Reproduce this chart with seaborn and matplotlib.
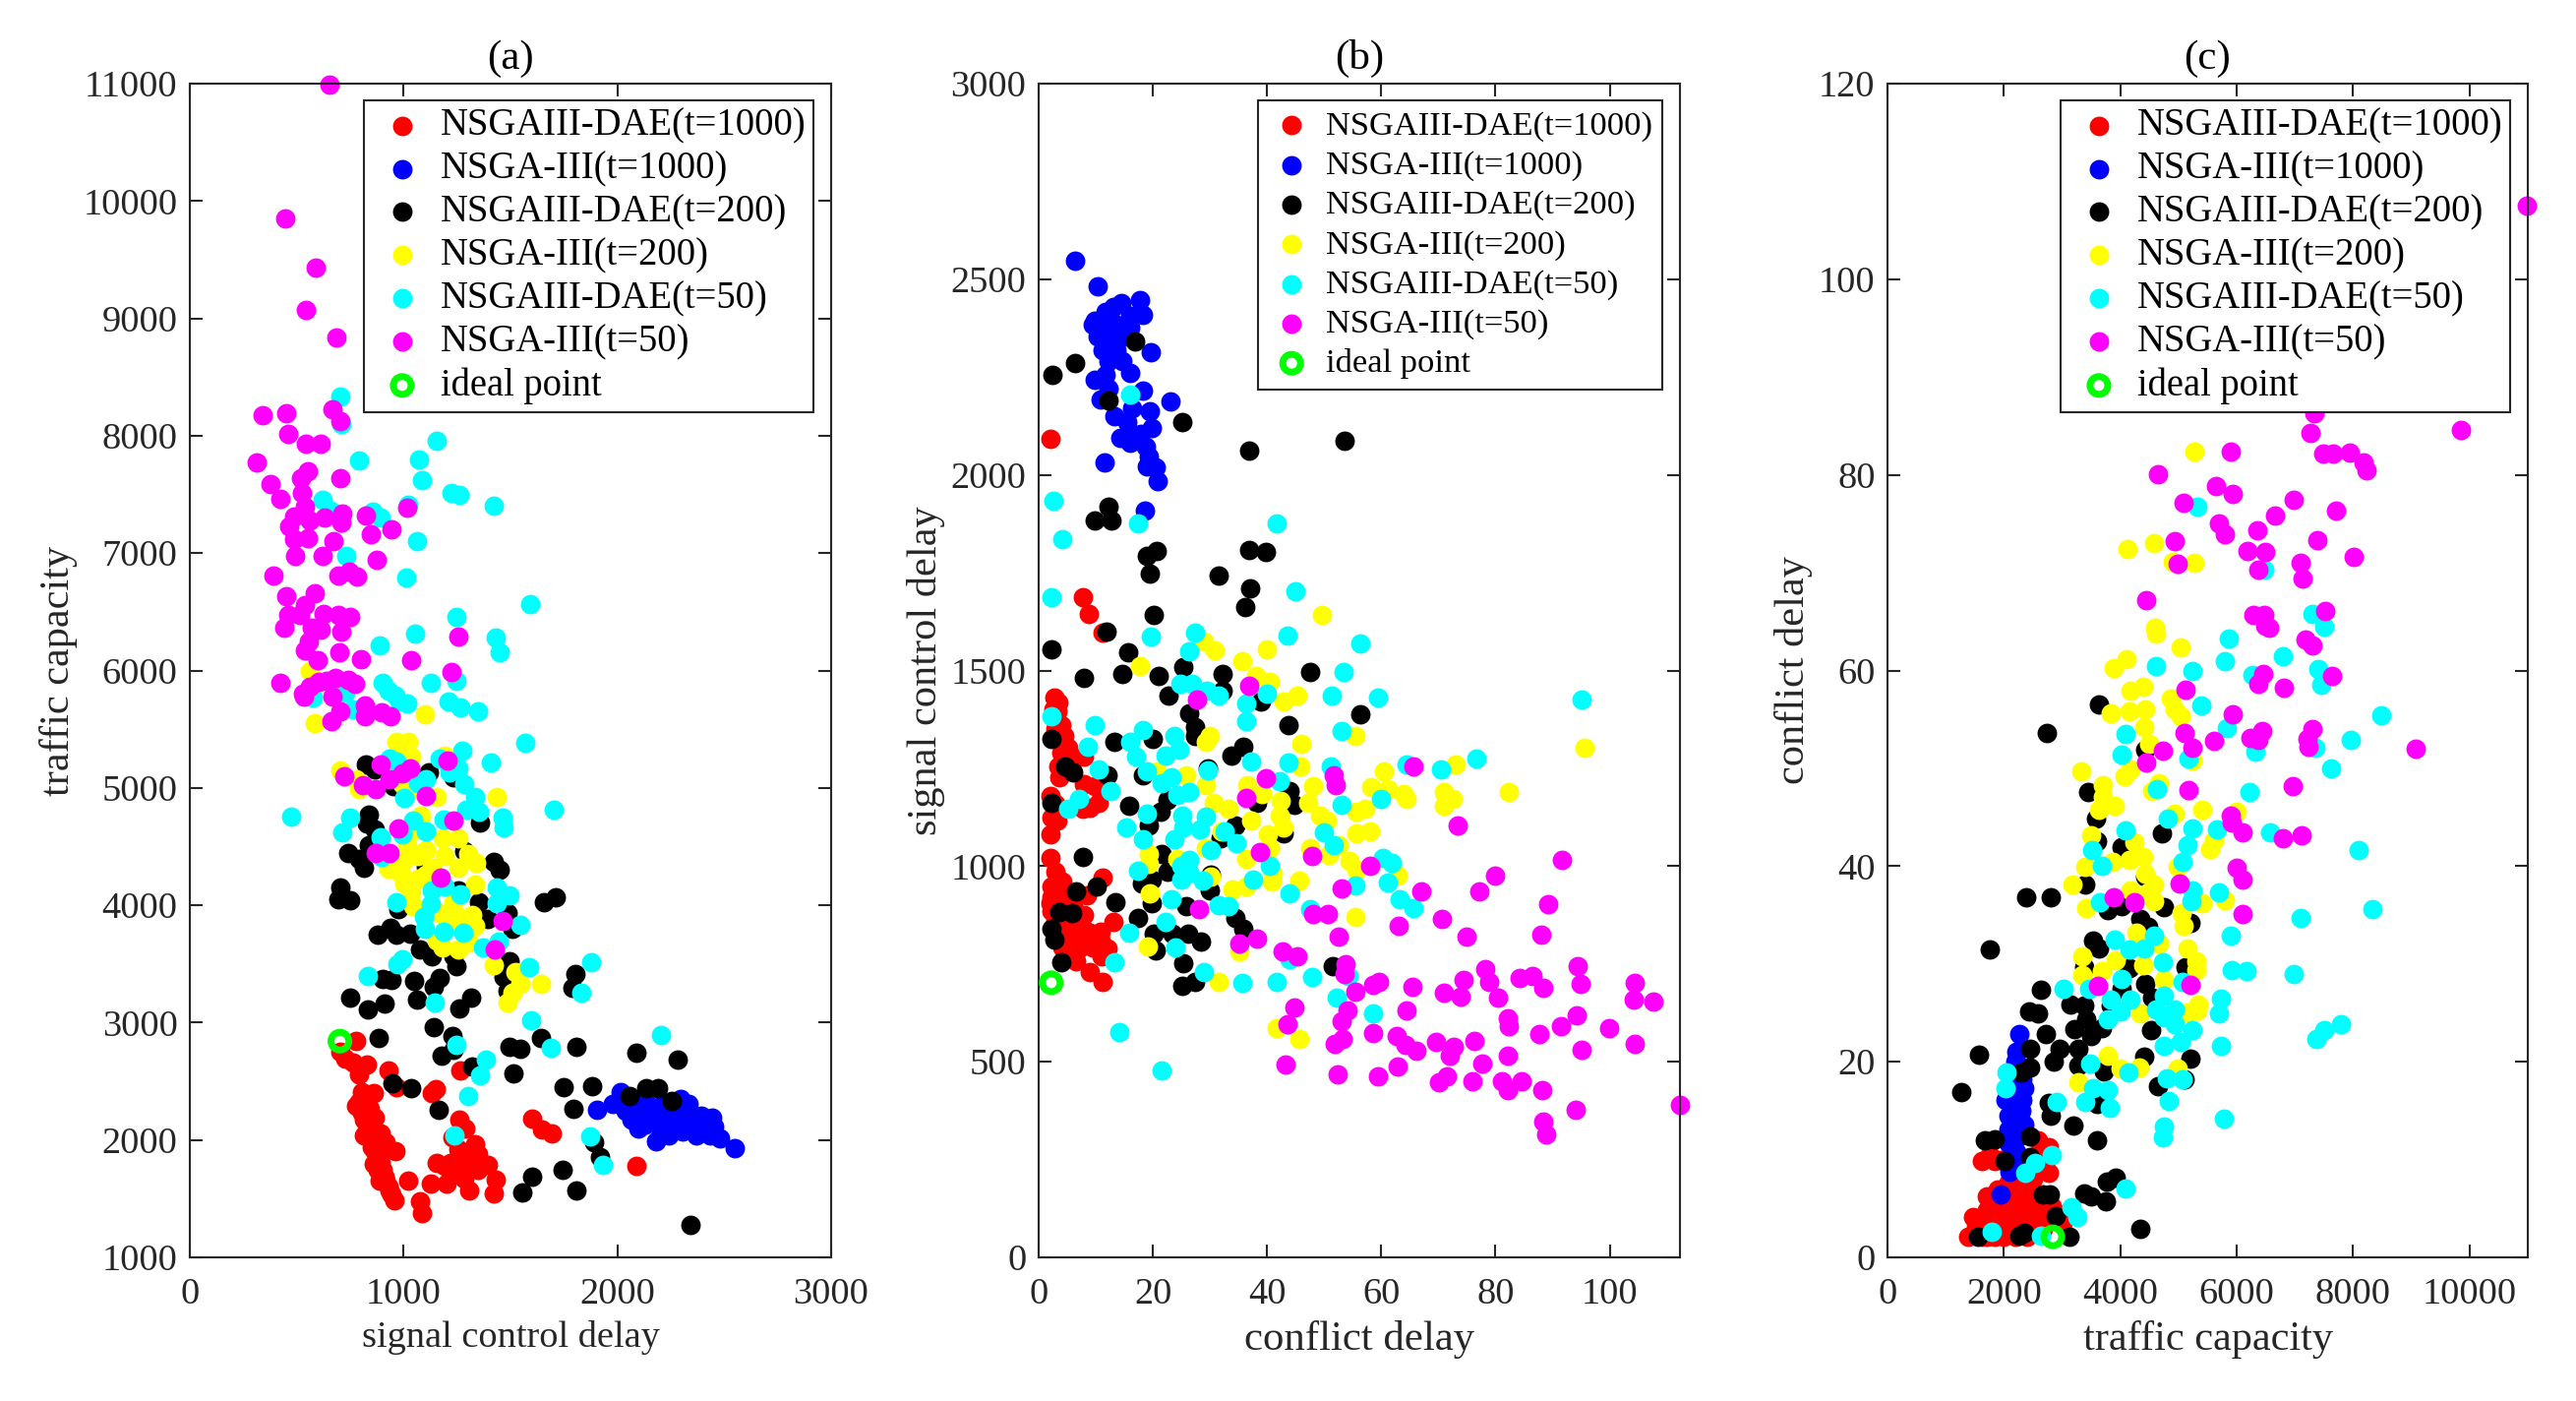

# PARETO FRONT SCATTER PANELS (a) (b) (c)

import pandas as pd
import matplotlib
matplotlib.use("Agg")
import matplotlib.pyplot as plt
import seaborn as sns

# STEP 1 — SERIES NAMES AND COLOURS

labels = ["NSGAIII-DAE(t=1000)", "NSGA-III(t=1000)", "NSGAIII-DAE(t=200)",
          "NSGA-III(t=200)", "NSGAIII-DAE(t=50)", "NSGA-III(t=50)"]
colors = ["#ff0000", "#0000ff", "#000000", "#ffff00", "#00ffff", "#ff00ff"]

# STEP 2 — PANEL (a): signal control delay, traffic capacity

a_red = [(778,2842),(702,2753),(727,2695),(765,2656),(828,2644),(790,2559),(929,2590),(967,2451),(1265,2590),
         (1131,2397),(1151,2432),(803,2412),(861,2397),(778,2289),(803,2231),(866,2192),(828,2134),(891,2057),
         (816,2037),(917,1979),(853,1940),(962,1902),(879,1844),(904,1747),(917,1650),(934,1573),(957,1488),
         (1023,1654),(1076,1476),(1088,1380),(1263,2172),(1288,2095),(1227,2025),(1333,1960),(1257,1921),
         (1156,1805),(1220,1805),(1283,1786),(1358,1805),(1396,1786),(1126,1631),(1202,1631),(1283,1670),
         (1308,1573),(1429,1662),(1424,1542),(1601,2180),(1649,2087),(1692,2057),(2091,1778),(790,2327),
         (841,2269),(816,2172),(879,2018),(866,1902),(891,1805),(909,1689),(942,1535),(1346,1883),(1283,1863),
         (800,2300),(850,2200),(850,2050),(900,1950),(860,1800),(880,1750),(890,1650),(930,1600),(900,2000),
         (1300,1900),(1350,1750),(1250,1720),(1190,1780)]
a_blue = [(1906,2261),(2015,2405),(1977,2308),(2040,2250),(2065,2172),(2098,2095),(2179,1990),(2242,2037),
          (2305,2076),(2331,2308),(2298,2347),(2217,2327),(2141,2308),(2091,2269),(2166,2231),(2242,2231),
          (2318,2211),(2394,2211),(2444,2192),(2452,2115),(2394,2115),(2343,2134),(2267,2134),(2192,2134),
          (2129,2134),(2368,2037),(2432,2037),(2482,2018),(2548,1929),(2015,2308),(2065,2347),(2204,2057),(2280,2192),
          (2100,2200),(2180,2200),(2250,2270),(2350,2180)]
a_black = [(823,5197),(866,5158),(1119,5132),(1232,5093),(954,5015),(1358,4706),(836,4772),(828,4694),(866,4648),
           (836,4513),(740,4443),(790,4397),(813,4319),(1283,4462),(1422,4366),(1449,4300),(1103,4327),(702,4153),
           (694,4048),(752,4041),(1257,4126),(1353,4029),(1656,4029),(1712,4068),(975,3971),(1485,3932),(1396,3882),
           (1510,3797),(879,3747),(937,3809),(967,3747),(1030,3758),(1076,3623),(1131,3565),(1232,3565),(1245,3480),
           (1497,3526),(1467,3391),(904,3372),(942,3364),(1048,3352),(1169,3379),(1139,3302),(1805,3410),(1788,3294),
           (1485,3275),(752,3213),(1061,3197),(1316,3217),(909,3159),(833,3112),(1263,3120),(1139,2965),(1227,2888),
           (884,2869),(1644,2869),(1497,2791),(1548,2780),(1810,2791),(1232,2772),(1177,2722),(2088,2741),(2283,2683),
           (1321,2629),(1515,2571),(947,2482),(1035,2443),(1750,2451),(1884,2455),(2134,2443),(2192,2443),(2058,2377),
           (2255,2335),(1162,2258),(1793,2269),(1889,1979),(1919,1851),(1742,1747),(1603,1685),(1553,1554),(1808,1569),
           (2343,1279)]
a_yellow = [(561,6000),(1101,5627),(586,5549),(967,5391),(1023,5391),(992,5344),(1035,5267),(1194,5275),(702,5151),
            (778,5073),(790,4988),(992,5035),(1081,4977),(1156,4919),(1434,4919),(1081,4764),(1056,4648),(1182,4571),
            (1257,4571),(1017,4513),(1106,4474),(1068,4416),(1194,4416),(1303,4435),(992,4358),(929,4311),(985,4280),
            (1257,4319),(1338,4358),(1131,4319),(1005,4184),(1068,4223),(1333,4176),(1035,4106),(1043,3990),(1232,4029),
            (1169,3932),(1245,3913),(1321,3913),(1333,3824),(1207,3836),(1270,3816),(1157,3700),(1182,3642),(1257,3623),
            (1308,3681),(1422,3488),(1523,3430),(1641,3333),(1548,3333),(1510,3256),(1485,3170),(1106,4261)]
a_cyan = [(702,8335),(707,8096),(1156,7954),(793,7792),(1071,7800),(1086,7619),(1222,7512),(1263,7500),(1422,7404),
          (621,7458),(656,7365),(856,7354),(894,7300),(1023,7412),(1061,7100),(730,6977),(1010,6789),(1591,6569),
          (1247,6458),(1053,6316),(1432,6277),(1449,6158),(889,6212),(904,5892),(1126,5892),(1247,5912),(929,5827),
          (727,5808),(962,5790),(576,5770),(765,5673),(980,5739),(1018,5720),(1212,5739),(1265,5685),(1346,5654),
          (1568,5383),(1409,5213),(1275,5313),(1169,5248),(934,5248),(967,5228),(1215,5132),(1257,5170),(1283,5035),
          (1106,5073),(1068,5043),(1002,4911),(1333,4927),(1295,4810),(1353,4795),(1704,4814),(475,4752),(752,4745),
          (715,4625),(1043,4725),(1187,4733),(1465,4745),(1467,4667),(1103,4629),(992,4602),(891,4578),(899,4408),
          (1131,4126),(1194,4157),(1265,4091),(1434,4153),(1497,4087),(1434,4021),(967,4029),(1126,4010),(1096,3901),
          (1098,3797),(1548,3836),(1187,3778),(1280,3770),(1371,3642),(1447,3693),(992,3538),(972,3499),(831,3395),
          (1586,3472),(1879,3511),(1833,3256),(1146,3170),(1598,3023),(2204,2896),(1687,2787),(1245,2811),(1384,2687),
          (1358,2552),(1303,2374),(1240,2037),(1874,2029),(1934,1786)]
a_magenta = [(654,10990),(447,9854),(591,9431),(543,9069),(687,8838),(341,8173),(449,8188),(669,8223),(702,8127),
             (462,8012),(543,7931),(611,7931),(313,7773),(550,7700),(518,7635),(702,7639),(376,7585),(525,7515),
             (424,7465),(538,7396),(487,7316),(715,7339),(631,7300),(563,7281),(710,7258),(823,7319),(467,7231),
             (944,7204),(848,7162),(1018,7389),(487,7123),(550,7127),(674,7104),(492,6977),(619,6973),(876,6942),
             (697,6812),(745,6842),(780,6800),(389,6808),(449,6635),(586,6662),(540,6558),(462,6473),(515,6473),
             (444,6362),(626,6481),(694,6473),(752,6458),(571,6365),(614,6346),(707,6335),(558,6250),(540,6170),
             (699,6158),(596,6089),(800,6100),(1257,6292),(1035,6085),(1225,5989),(424,5892),(563,5865),(601,5904),
             (639,5912),(682,5935),(740,5923),(773,5885),(530,5800),(669,5781),(535,5777),(702,5654),(821,5700),
             (821,5607),(899,5646),(939,5607),(662,5568),(891,5201),(1207,5236),(722,5100),(934,5073),(992,5120),
             (1030,5162),(811,5023),(869,4988),(1103,4930),(1232,4725),(975,4652),(871,4447),(934,4447),(1172,4234),
             (1462,3870),(1427,3623)]
a_ideal = [(702,2842)]

# STEP 3 — PANEL (b): conflict delay, signal control delay

b_red = [(2.1,2091),(7.7,1687),(8.7,1644),(11.2,1598),(2.7,1431),(3.4,1419),(3.2,1395),(3.9,1361),(4.4,1332),
         (5.1,1303),(7.9,1279),(3.5,1256),(3.7,1227),(9.8,1204),(10.5,1163),(7.7,1146),(2.3,1123),(3.2,1117),
         (2.1,1082),(2.1,1022),(11.2,970),(2.3,949),(4.2,961),(2.3,920),(4.2,926),(8.4,926),(2.3,885),(6,897),
         (13.1,858),(7.5,844),(10.8,833),(5.1,815),(7.5,815),(6,786),(9.4,792),(12,789),(10.8,810),(6.5,757),
         (8.9,728),(11.2,703),(4.2,792),(8.4,833),(3.2,943),(4.6,897),(2,1180),(3,1160),(4,1290),(5,1260),(8,1210),
         (9,1150),(3,985),(2,905),(5,880),(3,860),(6,840),(8,875),(7,790),(9,830),(11,770),(6,815),(4,845),
         (2.5,1400),(3,1350),(6,1270)]
b_blue = [(6.3,2548),(10.4,2482),(14.4,2440),(17.7,2446),(18.3,2409),(9.8,2394),(11.7,2417),(13.1,2429),(16,2406),
          (9.4,2383),(11.2,2383),(13.6,2383),(16,2377),(10.3,2354),(12.7,2354),(15,2354),(19.6,2313),(11.2,2319),
          (13.6,2319),(12.2,2290),(14.6,2290),(16,2261),(11.7,2256),(9.8,2242),(18.3,2215),(10.8,2192),(23,2189),
          (16.4,2169),(19.5,2163),(13.3,2150),(15.5,2135),(19.8,2120),(17.9,2106),(14.3,2094),(16,2083),(18.8,2071),
          (16.9,2100),(19.3,2048),(11.5,2033),(19,2021),(20.5,2019),(20.9,1984),(18.6,1909),(12.2,2221)]
b_black = [(16.9,2340),(6.3,2285),(2.4,2256),(12.3,2190),(25.1,2135),(36.8,2061),(53.6,2088),(12.2,1919),(9.8,1883),
           (12.7,1883),(20.7,1806),(19,1792),(36.9,1808),(39.8,1803),(19.5,1748),(31.5,1742),(37,1709),(36.1,1661),
           (20.1,1643),(11.9,1600),(2.2,1554),(15.6,1546),(7.9,1482),(14.7,1490),(21,1485),(25.3,1509),(32.2,1490),
           (47.6,1497),(22.7,1436),(32.2,1448),(38.9,1421),(56.4,1387),(43.7,1361),(26.4,1390),(27.3,1355),(27.3,1332),
           (2.3,1324),(13.3,1317),(19.9,1324),(35.8,1306),(33.7,1282),(4.6,1256),(6,1239),(29.7,1250),(18.3,1233),
           (12,1233),(43.9,1192),(2.3,1161),(15.8,1154),(22.6,1169),(21.4,1140),(38.2,1163),(44.8,1158),(19.3,1105),
           (34.4,1105),(42.9,1085),(31.9,1071),(21.5,1032),(7.7,1023),(22.6,986),(30.2,978),(18.1,955),(19.8,966),
           (29.9,937),(6.5,935),(10.1,948),(19.8,906),(13.4,908),(25.9,897),(3.7,882),(5.8,879),(34.4,868),(17.4,868),
           (35.8,841),(2.3,841),(2.7,812),(20.2,827),(23.5,827),(26.2,827),(28.5,806),(20.5,784),(4,754),(25.4,752),
           (51.5,744),(25.1,694),(27.3,705)]
b_yellow = [(49.6,1641),(29,1575),(30.8,1551),(17.8,1512),(39.9,1554),(35.7,1525),(38,1486),(40.4,1471),(45.3,1436),
            (42.9,1421),(55.5,1334),(46,1312),(29.9,1334),(29.2,1317),(45.9,1254),(73,1260),(60.4,1242),(95.6,1303),
            (20.7,1241),(25.9,1233),(36.5,1208),(29.2,1206),(39.1,1184),(48.1,1204),(58.2,1201),(61.2,1196),(82.4,1190),
            (63.9,1184),(71,1189),(72.5,1173),(71,1154),(64.5,1172),(30.6,1163),(42.4,1166),(47.2,1163),(57.1,1146),
            (55.7,1140),(33.2,1146),(42.2,1129),(49.3,1129),(37.2,1117),(42.9,1100),(50.5,1117),(55.7,1085),(58,1090),
            (40.1,1082),(32,1088),(40.5,1047),(29.2,1047),(52.6,1053),(47.6,1047),(50.8,1028),(19.3,1030),(19.3,1007),
            (36.3,1018),(24.3,1018),(54.4,1013),(55.7,992),(62.8,976),(41,980),(40.8,960),(45.7,964),(30.2,972),(36.4,949),
            (33.9,940),(19.5,931),(55.4,871),(19.1,795),(35.1,781),(31.6,705),(41.7,587),(45.6,559)]
b_cyan = [(16,2206),(2.5,1935),(17.4,1875),(41.6,1877),(4.2,1836),(2.2,1688),(45,1702),(19.7,1586),(27.4,1598),
          (43.6,1589),(26.4,1549),(56.3,1568),(53.4,1497),(24.8,1467),(26.8,1467),(29.4,1448),(31.6,1436),(40,1442),
          (51.4,1436),(59.5,1432),(95.1,1425),(36.4,1417),(2.2,1384),(36.4,1370),(9.8,1361),(53,1346),(18.3,1349),
          (23.7,1334),(16,1317),(8.6,1305),(24.7,1297),(17,1280),(22.2,1283),(37.2,1268),(43.7,1264),(51.1,1256),
          (64.4,1260),(70.4,1247),(76.7,1274),(10.5,1247),(19,1241),(29.6,1245),(23.3,1227),(21.5,1212),(42.2,1216),
          (12.5,1192),(26.4,1189),(24.3,1181),(60,1172),(7,1172),(53,1158),(5.1,1146),(19,1134),(25.2,1129),(29.3,1126),
          (25.4,1100),(28.3,1094),(15.4,1100),(32.5,1090),(50,1086),(18.2,1068),(23.7,1068),(34.7,1059),(51.7,1053),
          (30.2,1042),(60.2,1021),(26.4,1016),(61.8,1009),(25,1001),(40.4,1001),(17.4,989),(26.4,984),(25,966),(28.7,964),
          (37.5,966),(61.1,958),(55.5,951),(44,931),(23.3,916),(63.2,916),(31.6,899),(33.2,897),(65.7,893),(47.6,889),
          (22.3,858),(15.9,829),(23.9,792),(13.2,755),(43.9,761),(29,728),(47.9,716),(54.3,720),(41.7,705),(35.6,701),
          (52.2,665),(58.5,624),(14.2,575),(21.6,477)]
b_magenta = [(36.8,1462),(27.8,1427),(65.6,1256),(51.7,1233),(52.1,1206),(39.8,1225),(36.3,1174),(73.3,1103),(38.7,1036),
             (47.8,1027),(91.6,1016),(58,1001),(80,976),(53,943),(67,935),(77.1,936),(89.2,902),(28,889),(48.1,877),
             (50.7,877),(70.7,866),(63.1,848),(88.1,824),(75,820),(52.6,819),(38.2,815),(35.1,802),(42.7,781),(45.3,769),
             (78.2,737),(53.8,749),(94.4,744),(53.5,723),(78.8,705),(74.4,709),(84.2,715),(86.5,720),(58.5,697),(59.6,704),
             (65.5,691),(94.9,699),(104.3,702),(55.5,680),(71,676),(73.9,667),(80.4,665),(88.3,688),(104.2,659),(107.7,655),
             (44.7,638),(54.1,630),(64.4,631),(94.2,618),(53,603),(82.1,610),(82.3,592),(43.6,595),(91.4,592),(99.9,587),
             (58.6,573),(62.7,566),(87.6,572),(53.2,557),(51.9,545),(76.3,553),(69.5,550),(64.2,543),(72.7,537),(72,516),
             (66.1,528),(104.3,546),(82.1,516),(95,531),(77.6,496),(43.2,493),(62.9,488),(52.4,467),(59.5,462),(71.5,462),
             (70.1,447),(75.9,450),(81.2,450),(84.6,449),(82.1,427),(88.2,428),(94.1,378),(88.3,346),(88.9,314),(112.3,390)]
b_ideal = [(2.2,702)]

# STEP 4 — PANEL (c): traffic capacity, conflict delay

c_red = [(1385,2.1),(1616,2.1),(1986,2.1),(1524,3.2),(1755,3.4),(1709,4.8),(1847,5.7),(2124,4.8),(2124,3.4),(2401,3.9),
         (2678,3.9),(2817,5.2),(2494,5.2),(2586,4.5),(2217,6.2),(2401,6.6),(2078,7.6),(2309,7.6),(2124,8.3),(2494,8),
         (2771,8.7),(1616,9.9),(1847,9.9),(2725,9.9),(2771,11.3),(2586,12),(1893,6.9),(2124,6.6),(2401,5),(2263,4.3),
         (1940,4.5),(1893,2.9),(2078,2.9),(2401,2.9),(2678,2.9),(1478,4.1),(1709,6.2),(1700,2.1),(1850,2.1),(2200,2.1),
         (2400,2.1),(1600,3),(1800,4),(2000,5.5),(2200,5.5),(2000,3.8),(2300,3.5),(2550,3.3),(2300,5.5),(2600,6),(2000,6.5),
         (2250,7),(2450,7),(2200,8.8),(2350,8.5),(2600,9),(2500,10),(2650,11),(1750,10.5),(1950,10),(2900,4.5),(3000,3.5)]
c_blue = [(2263,22.8),(2217,21),(2263,19.6),(2309,18.2),(2263,17.3),(2124,16.4),(2217,15.5),(2078,14.5),(2217,14.1),
          (2078,13.1),(2263,12.4),(2078,11.7),(2217,10.8),(2078,9.9),(2217,9.2),(2355,17.3),(2032,16.1),(2309,16.1),
          (2170,18),(1940,6.4),(2355,13.6),(2150,13),(2150,15),(2150,17),(2150,12),(2150,10),(2200,20),(2300,15),
          (2120,19),(2100,8.8)]
c_black = [(3630,56.5),(2743,53.6),(4433,51.9),(3445,47.6),(3574,44.9),(4710,43.4),(3602,42.5),(4018,41.9),(4433,38.9),
           (3399,38.1),(2383,36.8),(2798,36.8),(3787,35.5),(4018,35.9),(4756,35.8),(4341,34.6),(4479,33.8),(5200,34.2),
           (3537,32.4),(3639,31.6),(1764,31.5),(3371,29.7),(4156,29.6),(5126,29.7),(4433,28),(4018,27.5),(2641,27.4),
           (3140,25.9),(3371,25.8),(3833,25.7),(4544,26.6),(2429,25.1),(2586,24.9),(3417,24.3),(3205,23.3),(3676,23.4),
           (3491,22.6),(4526,23.2),(2725,22.8),(2448,21.3),(2955,21.3),(3279,21.3),(1570,20.7),(4415,20.5),(5200,20.3),
           (2863,20),(3279,19.6),(2448,19.4),(2290,18.9),(3713,19),(5108,18.2),(4646,17.5),(1275,16.9),(3602,15.7),
           (2771,15.8),(2799,14.5),(3186,13.5),(2448,12.4),(1681,12),(1847,12.1),(3602,12),(2448,10.3),(2004,9.9),
           (3925,8.1),(3768,7.7),(3371,6.5),(3491,6.2),(2678,6.4),(2789,6.4),(3750,5.7),(2891,4.2),(4341,2.9),(1552,2.1),
           (2263,2.2),(2355,2.5),(3122,2.1)]
c_yellow = [(5274,82.4),(4128,72.4),(4572,73),(4895,71.1),(5265,71),(4600,64.4),(4618,63.8),(5043,62.4),(4110,61.2),
            (3888,60.3),(4175,57.9),(4396,58.3),(4867,57.1),(3833,55.6),(4156,55.8),(4433,56),(4941,56),(5034,55.3),
            (4415,54.2),(4489,52.5),(5246,50.8),(3325,49.7),(4175,49.9),(4064,49.2),(4664,48.5),(4553,47.7),(3694,48.3),
            (3694,47.1),(3898,46.2),(3630,45.8),(5403,45.8),(4941,45.4),(6003,45.6),(3491,43.2),(4249,42.4),(5615,42.6),
            (5541,41.7),(3861,40.4),(4156,40.6),(4387,40.9),(3390,39.9),(4988,39.9),(4433,39.2),(3177,38.1),(4581,38.1),
            (4175,37.5),(4479,37.3),(4572,36.4),(5403,36.2),(5800,36.5),(3417,35.7),(5052,35.2),(5089,33.9),(4267,33.2),
            (4664,32.1),(5154,31.6),(3353,30.8),(5311,30.3),(3925,30.4),(4387,29.9),(5311,29.4),(3676,29.3),(3343,28.9),
            (4756,28.4),(5338,25.9),(5154,25),(5320,25.2),(4341,24.9),(3778,20.6),(3999,19.3),(4332,19.4),(4987,19.3),(3270,17.9)]
c_cyan = [(5320,76.7),(7296,65.8),(7500,64.5),(6465,70.3),(5865,63.3),(6788,61.5),(5791,61),(4618,60.5),(5246,60),
          (7407,60.2),(6262,59.5),(7453,58.5),(5385,56.4),(8479,55.4),(4092,53.5),(5837,54.1),(7961,52.9),(7343,52.1),
          (6317,51.7),(4027,51.4),(5172,51),(7620,50),(4627,47.9),(6216,47.6),(4821,44.9),(5246,43.9),(4092,43.7),
          (5653,43.8),(6567,43.5),(5154,42.1),(3510,41.6),(8100,41.6),(5061,40.4),(3685,40),(5246,37.5),(5689,37.3),
          (5228,36.4),(3657,36.3),(8331,35.6),(7102,34.7),(5902,32.9),(4572,32.9),(3907,32.5),(4156,31.5),(4415,31.6),
          (4729,30.2),(5911,29.4),(6170,29.3),(6983,29),(4027,28.5),(5061,28.2),(3029,27.5),(3463,27.5),(3842,26.4),
          (4175,26.4),(4747,26.8),(5726,26.5),(4618,25.3),(4941,25.3),(4009,25.1),(5699,24.9),(4756,24.5),(3787,24.3),
          (4941,23.8),(5237,23.2),(7795,23.8),(7509,23.2),(5043,22),(7361,22.3),(4756,21.6),(5736,21.6),(3473,19.8),
          (4138,18.9),(2050,18.9),(4803,18.3),(5061,18.2),(2032,17.3),(3537,17.3),(3787,17.1),(3399,15.9),(2909,15.9),
          (3814,15.3),(4840,16),(5782,14.2),(4747,13.4),(4738,12.3),(2826,10.5),(2540,9.7),(2374,8.7),(4092,7),(3159,5.1),
          (3260,4.1),(1783,2.6),(2632,2.2)]
c_magenta = [(10991,107.5),(9855,84.6),(7333,86.3),(7269,84.3),(7481,82.2),(7647,82.2),(5893,82.4),(7943,82.3),(8183,81.3),
             (8229,80.5),(4655,80.1),(5652,78.9),(5930,78.1),(6982,77.5),(5080,77.2),(7712,76.3),(6650,75.8),(5699,75),
             (6345,74.3),(5800,73.9),(4932,73.2),(7379,73.3),(6179,72.2),(6484,72.1),(8008,71.6),(7093,71),(4987,70.9),
             (6373,70.3),(7130,69.4),(4452,67.2),(7527,66.1),(6290,65.7),(6465,65.7),(6484,64.6),(6558,64.4),(7186,63.2),
             (7296,62.6),(7638,59.4),(6447,59.6),(6364,58.6),(6807,58.2),(5126,58),(5930,55.5),(5108,53.6),(5616,52.8),
             (5237,52.1),(4729,51.8),(4452,50.6),(6234,53.1),(6437,53.8),(6373,52.9),(7223,53),(7296,54),(7232,52.2),
             (9070,52),(6955,48.2),(5172,47.8),(5893,45.2),(5911,44.5),(6096,43.5),(6788,42.8),(7112,43.2),(6003,39.8),
             (6096,38.6),(5024,38.2),(3879,36.8),(4239,36.3),(6105,35.1),(3620,27.8),(5200,27.9)]
c_ideal = [(2840,2.1)]

# STEP 5 — PAGE LAYOUT

sns.set_theme(style="ticks")
plt.rcParams['font.family'] = ['Liberation Serif', 'DejaVu Serif']
dark = "#262626"
W, H = 2619, 1424

fig = plt.figure(figsize=(W / 100, H / 100), dpi=100, facecolor="white")


def draw_panel(left, right, series, ideal, title, xlabel, ylabel, xlim, ylim, xticks, yticks,
               legend_size, spacing, handle_len, text_pad, border_pad, xlabel_size):
    ax = fig.add_axes([left / W, 1 - 1278 / H, (right - left) / W, (1278 - 85) / H])

    for pts, name, col in zip(series, labels, colors):
        df = pd.DataFrame(pts, columns=["x", "y"])
        sns.scatterplot(data=df, x="x", y="y", color=col, s=205, linewidth=0,
                        label=name, clip_on=False, ax=ax, zorder=2)

    df = pd.DataFrame(ideal, columns=["x", "y"])
    sns.scatterplot(data=df, x="x", y="y", s=170, facecolor="none", edgecolor="#00ff00",
                    linewidth=5, label="ideal point", clip_on=False, ax=ax, zorder=3)

    ax.set_xlim(xlim)
    ax.set_ylim(ylim)
    ax.set_xticks(xticks)
    ax.set_yticks(yticks)
    ax.tick_params(direction="in", length=9.5, width=1.5, top=True, right=True,
                   labelsize=27.6, colors=dark)
    ax.tick_params(axis="x", pad=15)
    ax.tick_params(axis="y", pad=9)
    for s in ax.spines.values():
        s.set_visible(True)
        s.set_linewidth(1.5)
        s.set_color(dark)

    ax.set_title(title, fontsize=31, color="black", pad=10.5)
    ax.set_xlabel(xlabel, fontsize=xlabel_size, color=dark, labelpad=6)
    ax.set_ylabel(ylabel, fontsize=30.5, color=dark, labelpad=4)

    leg = ax.legend(loc="upper right", bbox_to_anchor=(1 - 18 / (right - left), 1 - 17 / 1193),
                    borderaxespad=0, fontsize=legend_size, frameon=True, fancybox=False, framealpha=1,
                    edgecolor=dark, borderpad=border_pad, labelspacing=spacing, handlelength=handle_len,
                    handletextpad=text_pad)
    leg.get_frame().set_linewidth(1.5)
    for t in leg.get_texts():
        t.set_color("black")
    return ax


# STEP 6 — THE THREE PANELS

draw_panel(193, 845, [a_red, a_blue, a_black, a_yellow, a_cyan, a_magenta], a_ideal, "(a)",
           "signal control delay", "traffic capacity", (0, 3000), (1000, 11000),
           [0, 1000, 2000, 3000], list(range(1000, 12000, 1000)), 27.8, 0.18, 1.6, 0.2, 0.2, 27.6)

draw_panel(1056, 1708, [b_red, b_blue, b_black, b_yellow, b_cyan, b_magenta], b_ideal, "(b)",
           "conflict delay", "signal control delay", (0, 112.3), (0, 3000),
           [0, 20, 40, 60, 80, 100], [0, 500, 1000, 1500, 2000, 2500, 3000], 24.8, 0.26, 1.4, 0.3, 0.3, 30.8)

draw_panel(1919, 2570, [c_red, c_blue, c_black, c_yellow, c_cyan, c_magenta], c_ideal, "(c)",
           "traffic capacity", "conflict delay", (0, 11000), (0, 120),
           [0, 2000, 4000, 6000, 8000, 10000], [0, 20, 40, 60, 80, 100, 120], 27.8, 0.18, 1.6, 0.2, 0.2, 30.5)

fig.savefig("out.png", dpi=100)
